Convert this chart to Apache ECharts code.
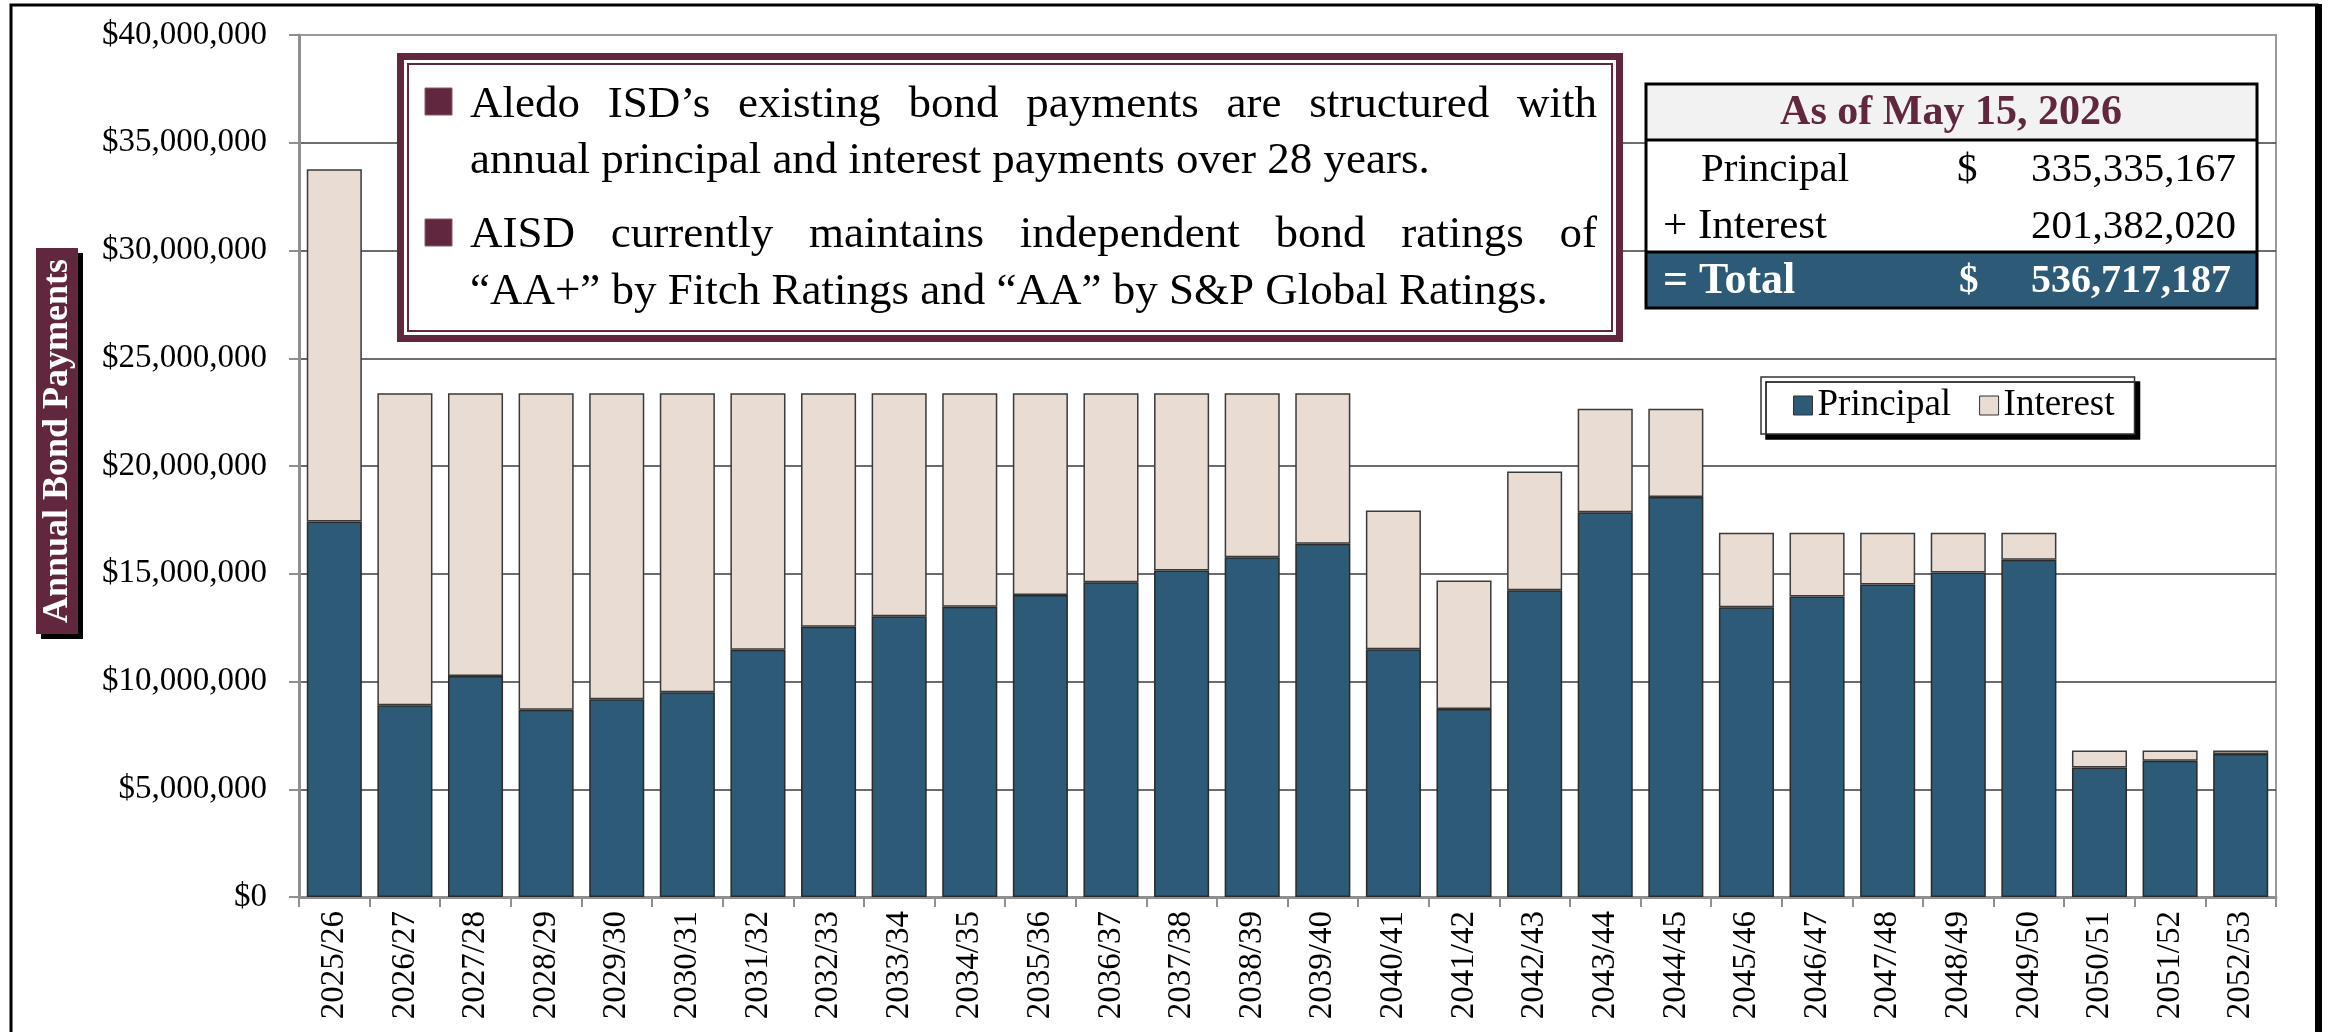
<!DOCTYPE html>
<html>
<head>
<meta charset="utf-8">
<script src="https://cdn.jsdelivr.net/npm/echarts@6/dist/echarts.min.js"></script>
<style>
html,body{margin:0;padding:0;background:#fff;}
#c{width:2328px;height:1032px;}
</style>
</head>
<body>
<div id="c"></div>
<script>
// ---------- DATA ----------
const categories = ['2025/26','2026/27','2027/28','2028/29','2029/30','2030/31','2031/32','2032/33','2033/34','2034/35',
  '2035/36','2036/37','2037/38','2038/39','2039/40','2040/41','2041/42','2042/43','2043/44','2044/45',
  '2045/46','2046/47','2047/48','2048/49','2049/50','2050/51','2051/52','2052/53'];
const principal = [17420000, 8900000, 10250000, 8690000, 9180000, 9500000, 11470000, 12540000, 13030000, 13470000,
  14010000, 14600000, 15150000, 15770000, 16390000, 11500000, 8720000, 14230000, 17850000, 18560000,
  13440000, 13950000, 14500000, 15060000, 15650000, 6010000, 6320000, 6630000];
const interest = [16350000, 14480000, 13130000, 14690000, 14200000, 13880000, 11910000, 10840000, 10350000, 9910000,
  9370000, 8780000, 8230000, 7610000, 6990000, 6430000, 5970000, 5510000, 4810000, 4100000,
  3460000, 2950000, 2400000, 1840000, 1250000, 790000, 480000, 170000];
const seriesNames = ['Principal', 'Interest'];
const yTicks = { min: 0, max: 40000000, interval: 5000000 };
const yAxisTitle = 'Annual Bond Payments';
const bullets = [
  ["Aledo ISD\u2019s existing bond payments are structured with", "annual principal and interest payments over 28 years."],
  ["AISD currently maintains independent bond ratings of", "\u201CAA+\u201D by Fitch Ratings and \u201CAA\u201D by S&P Global Ratings."]
];
const tableTitle = 'As of May 15, 2026';
const tableRows = [
  ['Principal', '$', '335,335,167'],
  ['+ Interest', '', '201,382,020'],
  ['= Total', '$', '536,717,187']
];

// ---------- STYLE ----------
const C_PRIN = '#2c5a77', C_INT = '#e8dcd3', MAROON = '#61273f';
const SERIF = '"Liberation Serif", "Times New Roman", serif';

const chart = echarts.init(document.getElementById('c'), null, {renderer: 'canvas'});

const ctx = document.createElement('canvas').getContext('2d');
function measure(s, font) { ctx.font = font; return ctx.measureText(s).width; }

const graphics = [];
function T(x, y, s, o) {
  o = o || {};
  graphics.push({
    type: 'text', x: x, y: y, z: 120, rotation: o.rot || 0,
    style: {
      text: s, fill: o.fill || '#000',
      font: (o.weight || 'normal') + ' ' + (o.size || 40) + 'px ' + SERIF,
      align: o.align || 'left', verticalAlign: 'middle'
    }
  });
}
function R(x, y, w, h, o) {
  graphics.push({
    type: 'rect', z: o.z || 110,
    shape: {x: x, y: y, width: w, height: h},
    style: Object.assign({fill: 'none'}, o.style)
  });
}

// outer frame
R(11, 5, 2306, 1100, {z: 5, style: {fill: 'none', stroke: '#000', lineWidth: 3}});
R(2315, 4, 7, 1028, {z: 5, style: {fill: '#000'}});

// y-axis title box
R(36, 248, 42, 386, {style: {fill: MAROON, shadowColor: '#000', shadowOffsetX: 5, shadowOffsetY: 5, shadowBlur: 0}});
T(58, 441, yAxisTitle, {rot: Math.PI / 2, fill: '#fff', weight: 'bold', size: 36, align: 'center'});

// text box with double maroon border
R(400.5, 56.5, 1219, 282, {style: {fill: '#fff', stroke: MAROON, lineWidth: 7}});
R(408, 64, 1204, 267, {z: 111, style: {fill: 'none', stroke: MAROON, lineWidth: 2}});
const FS = 45;
const bFont = 'normal ' + FS + 'px ' + SERIF;
const lineCenters = [[105, 161], [235, 292]];
const bulletTops = [88, 219];
const textLeft = 470, textRight = 1597;
bullets.forEach(function (par, pi) {
  R(425, bulletTops[pi], 27, 27, {z: 112, style: {fill: MAROON, stroke: '#8a5a6c', lineWidth: 1}});
  // justified first line
  const words = par[0].split(' ');
  const widths = words.map(function (w) { return measure(w, bFont); });
  const sum = widths.reduce(function (a, b) { return a + b; }, 0);
  const gap = (textRight - textLeft - sum) / (words.length - 1);
  let x = textLeft;
  words.forEach(function (w, i) { T(x, lineCenters[pi][0], w, {size: FS}); x += widths[i] + gap; });
  // last line left aligned
  T(textLeft, lineCenters[pi][1], par[1], {size: FS});
});

// summary table
R(1646, 84, 611, 56, {style: {fill: '#f2f2f2'}});
R(1646, 140, 611, 112, {style: {fill: '#fff'}});
R(1646, 252, 611, 56, {style: {fill: C_PRIN}});
R(1646, 84, 611, 224, {z: 115, style: {fill: 'none', stroke: '#000', lineWidth: 3}});
graphics.push({type: 'line', z: 115, shape: {x1: 1646, y1: 140, x2: 2257, y2: 140}, style: {stroke: '#000', lineWidth: 3}});
graphics.push({type: 'line', z: 115, shape: {x1: 1646, y1: 252, x2: 2257, y2: 252}, style: {stroke: '#000', lineWidth: 3}});
T(1951, 113, tableTitle, {fill: MAROON, weight: 'bold', size: 42, align: 'center'});
T(1701, 170, tableRows[0][0], {size: 41});
T(1957, 170, tableRows[0][1], {size: 41});
T(2236, 170, tableRows[0][2], {size: 41, align: 'right'});
T(1663, 227, tableRows[1][0], {size: 43});
T(2236, 227, tableRows[1][2], {size: 41, align: 'right'});
T(1663, 282, tableRows[2][0], {size: 44, weight: 'bold', fill: '#fff'});
T(1959, 282, tableRows[2][1], {size: 39, weight: 'bold', fill: '#fff'});
T(2231, 282, tableRows[2][2], {size: 40, weight: 'bold', fill: '#fff', align: 'right'});

const splitColors = [];
for (let v = yTicks.min; v <= yTicks.max; v += yTicks.interval) splitColors.push(v === yTicks.max ? '#9a9a9a' : '#3c3c3c');

const option = {
  animation: false,
  backgroundColor: '#fff',
  grid: {left: 299, top: 35, width: 1977, height: 862, containLabel: false,
         show: true, borderColor: '#9a9a9a', borderWidth: 2, backgroundColor: 'transparent'},
  legend: {
    data: seriesNames, left: 1761, top: 377, orient: 'horizontal',
    padding: [10, 20, 10, 32], itemGap: 28, itemWidth: 19, itemHeight: 19, icon: 'rect',
    backgroundColor: '#fff', borderColor: '#333', borderWidth: 1.5,
    shadowColor: '#000', shadowOffsetX: 5, shadowOffsetY: 5, shadowBlur: 0,
    textStyle: {fontFamily: SERIF, fontSize: 37, color: '#000', padding: [0, 0, 0, 0]},
    itemStyle: {borderColor: '#333', borderWidth: 1}, z: 50
  },
  xAxis: {
    type: 'category', data: categories, boundaryGap: true,
    axisLine: {lineStyle: {color: '#8f8f8f', width: 3}},
    axisTick: {show: true, length: 10, lineStyle: {color: '#8f8f8f', width: 2}},
    axisLabel: {rotate: 90, margin: 14, fontFamily: SERIF, fontSize: 33, color: '#000', interval: 0},
    splitLine: {show: false}
  },
  yAxis: {
    type: 'value', min: yTicks.min, max: yTicks.max, interval: yTicks.interval,
    axisLine: {show: true, lineStyle: {color: '#8f8f8f', width: 3}},
    axisTick: {show: true, length: 10, lineStyle: {color: '#8f8f8f', width: 2}},
    axisLabel: {margin: 32, fontFamily: SERIF, fontSize: 33, color: '#000',
      formatter: function (v) { return '$' + v.toLocaleString('en-US'); }},
    splitLine: {show: true, lineStyle: {color: splitColors, width: 1.5}}
  },
  series: [
    {name: seriesNames[0], type: 'bar', stack: 'total', data: principal, barCategoryGap: '22%',
     itemStyle: {color: C_PRIN, borderColor: '#2a2a2a', borderWidth: 1.5}},
    {name: seriesNames[1], type: 'bar', stack: 'total', data: interest, barCategoryGap: '22%',
     itemStyle: {color: C_INT, borderColor: '#3a3a3a', borderWidth: 1.5}}
  ],
  graphic: graphics
};
chart.setOption(option);
</script>
</body>
</html>
